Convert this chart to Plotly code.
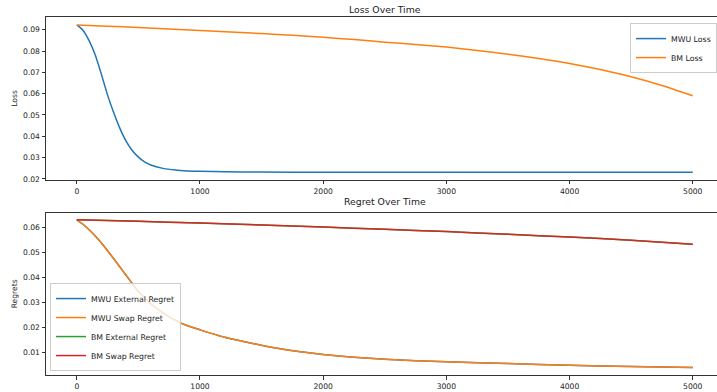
import plotly.graph_objects as go

# ---- data ----
mwu_loss_x = [0, 50, 100, 150, 200, 250, 300, 350, 400, 450, 500, 550, 600, 700, 800, 900,
              1000, 1200, 1500, 2000, 2500, 3000, 3500, 4000, 4500, 5000]
mwu_loss = [0.0923, 0.0898, 0.0849, 0.0781, 0.0690, 0.0593, 0.0510, 0.0437, 0.0377, 0.0333,
            0.0302, 0.0280, 0.0265, 0.0249, 0.0241, 0.0237, 0.0235, 0.0233, 0.0232, 0.0231,
            0.0231, 0.0231, 0.0231, 0.0231, 0.0231, 0.0231]

bm_loss_x = [0, 250, 500, 750, 1000, 1250, 1500, 1750, 2000, 2250, 2500, 2750, 3000,
             3250, 3500, 3750, 4000, 4250, 4500, 4750, 5000]
bm_loss = [0.0923, 0.0917, 0.0911, 0.0904, 0.0897, 0.0890, 0.0882, 0.0874, 0.0865, 0.0854,
           0.0842, 0.0831, 0.0819, 0.0803, 0.0785, 0.0765, 0.0742, 0.0713, 0.0679, 0.0638, 0.0590]

mwu_regret_x = [0, 50, 100, 150, 200, 250, 300, 350, 400, 450, 500, 600, 700, 800, 900, 1000,
                1200, 1400, 1600, 1800, 2000, 2250, 2500, 2750, 3000, 3500, 4000, 4500, 5000]
mwu_external_regret = [0.0630, 0.0612, 0.0590, 0.0565, 0.0537, 0.0506, 0.0474, 0.0441, 0.0408,
                       0.0375, 0.0343, 0.0294, 0.0258, 0.0228, 0.0206, 0.0190, 0.0160, 0.0138,
                       0.0118, 0.0103, 0.0091, 0.0080, 0.0072, 0.0066, 0.0062, 0.0055, 0.0048,
                       0.0043, 0.0039]
mwu_swap_regret = [0.0630, 0.0612, 0.0590, 0.0565, 0.0537, 0.0506, 0.0474, 0.0441, 0.0408,
                   0.0375, 0.0343, 0.0294, 0.0258, 0.0228, 0.0206, 0.0190, 0.0160, 0.0138,
                   0.0118, 0.0103, 0.0091, 0.0080, 0.0072, 0.0066, 0.0062, 0.0055, 0.0048,
                   0.0043, 0.0039]

bm_regret_x = [0, 500, 1000, 1500, 2000, 2500, 3000, 3500, 4000, 4500, 5000]
bm_external_regret = [0.0630, 0.0624, 0.0617, 0.0609, 0.0601, 0.0592, 0.0583, 0.0572, 0.0561,
                      0.0548, 0.0532]
bm_swap_regret = [0.0630, 0.0624, 0.0617, 0.0609, 0.0601, 0.0592, 0.0583, 0.0572, 0.0561,
                  0.0548, 0.0532]

loss_ticks = [0.02, 0.03, 0.04, 0.05, 0.06, 0.07, 0.08, 0.09]
regret_ticks = [0.01, 0.02, 0.03, 0.04, 0.05, 0.06]
x_ticks = [0, 1000, 2000, 3000, 4000, 5000]

BLUE, ORANGE, GREEN, RED = "#1f77b4", "#ff7f0e", "#2ca02c", "#d62728"
FONT = "DejaVu Sans"

fig = go.Figure()

def add(x, y, name, color, xa, ya, legend):
    fig.add_trace(go.Scatter(x=x, y=y, name=name, mode="lines",
                             line=dict(color=color, width=1.5, shape="spline", smoothing=0.6),
                             xaxis=xa, yaxis=ya, legend=legend))

add(mwu_loss_x, mwu_loss, "MWU Loss", BLUE, "x", "y", "legend")
add(bm_loss_x, bm_loss, "BM Loss", ORANGE, "x", "y", "legend")
add(mwu_regret_x, mwu_external_regret, "MWU External Regret", BLUE, "x2", "y2", "legend2")
add(mwu_regret_x, mwu_swap_regret, "MWU Swap Regret", ORANGE, "x2", "y2", "legend2")
add(bm_regret_x, bm_external_regret, "BM External Regret", GREEN, "x2", "y2", "legend2")
add(bm_regret_x, bm_swap_regret, "BM Swap Regret", RED, "x2", "y2", "legend2")

axis_common = dict(showgrid=False, zeroline=False, showline=True, linecolor="#333333",
                   linewidth=1, ticks="outside", ticklen=3.5, tickwidth=1, tickcolor="#333333",
                   tickfont=dict(family=FONT, size=7.6, color="#222222"))

fig.update_layout(
    width=717, height=392,
    margin=dict(l=46, r=0, t=17, b=17),
    paper_bgcolor="white", plot_bgcolor="white",
    font=dict(family=FONT, color="#222222"),
    xaxis=dict(domain=[0, 1], anchor="y", range=[-250, 5197], tickvals=x_ticks,
               mirror=True, **axis_common),
    yaxis=dict(domain=[0.545, 1], anchor="x", range=[0.0195, 0.0960], tickvals=loss_ticks,
               tickformat=".2f", title=dict(text="Loss", standoff=4,
                                            font=dict(family=FONT, size=7.6)),
               **axis_common),
    xaxis2=dict(domain=[0, 1], anchor="y2", range=[-250, 5197], tickvals=x_ticks,
                mirror=True, **axis_common),
    yaxis2=dict(domain=[0, 0.4534], anchor="x2", range=[0.00092, 0.06584],
                tickvals=regret_ticks, tickformat=".2f",
                title=dict(text="Regrets", standoff=4, font=dict(family=FONT, size=7.6)),
                **axis_common),
    legend=dict(x=1, xanchor="right", y=0.983, yanchor="top",
                bgcolor="rgba(255,255,255,0.8)",
                bordercolor="#cccccc", borderwidth=1,
                font=dict(family=FONT, size=7.8, color="#222222"),
                itemwidth=30, tracegroupgap=0),
    legend2=dict(x=0.006, xanchor="left", y=0.011, yanchor="bottom",
                 bgcolor="rgba(255,255,255,0.8)",
                 bordercolor="#cccccc", borderwidth=1,
                 font=dict(family=FONT, size=7.8, color="#222222"),
                 itemwidth=30, tracegroupgap=0),
    showlegend=True,
    annotations=[
        dict(text="Loss Over Time", xref="paper", yref="paper", x=0.505, y=1.021,
             xanchor="center", yanchor="middle", showarrow=False,
             font=dict(family=FONT, size=9.3, color="#222222")),
        dict(text="Regret Over Time", xref="paper", yref="paper", x=0.505, y=0.486,
             xanchor="center", yanchor="middle", showarrow=False,
             font=dict(family=FONT, size=9.3, color="#222222")),
    ],
)

# remove the browser's default 8px body margin so the figure sits at the window origin
fig.write_html("out.html", config={"displayModeBar": False},
               post_script="document.body.style.margin='0';")
